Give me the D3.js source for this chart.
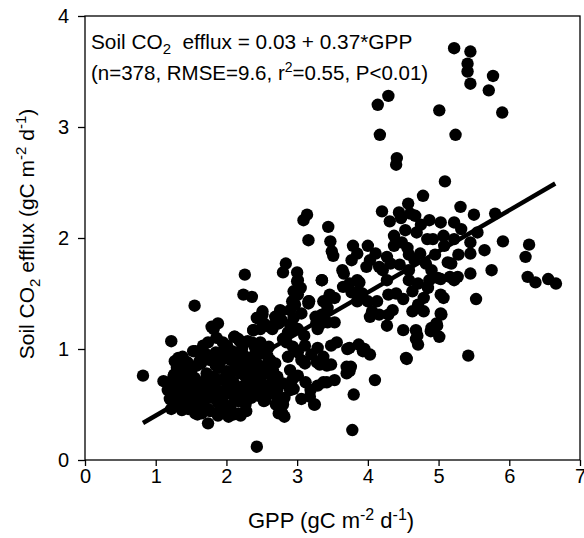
<!DOCTYPE html>
<html>
<head>
<meta charset="utf-8">
<script src="https://cdn.jsdelivr.net/npm/d3@7/dist/d3.min.js"></script>
<style>
  body { margin: 0; background: #fff; }
  text { font-family: "Liberation Sans", Arial, sans-serif; fill: #000; }
</style>
</head>
<body>
<div id="graf"></div>
<script>
// Datos: GPP (x) y flujo de CO2 del suelo (y), leidos a ojo del grafico
var xTicks = [0, 1, 2, 3, 4, 5, 6, 7]
var yTicks = [0, 1, 2, 3, 4]
var fitIntercept = 0.03
var fitSlope = 0.37
var fitRange = [0.82, 6.65]

// puntos aislados y extremos
var outliers = [
  [0.82,0.76],[1.11,0.71],[1.22,1.07],[1.55,1.39],[1.74,0.33],[2.43,0.12],[3.78,0.27],
  [3.80,0.59],[4.10,0.72],[3.74,0.80],[3.76,0.84],
  [5.22,3.71],[5.45,3.68],[5.41,3.57],[5.41,3.50],[5.45,3.39],[5.77,3.46],[5.71,3.33],
  [5.90,3.13],[5.01,3.15],[5.24,2.93],[4.14,3.20],[4.29,3.28],[4.17,2.93],[4.41,2.72],
  [4.40,2.66],[5.09,2.51],
  [5.91,1.97],[6.28,1.94],[6.23,1.83],[6.26,1.65],[6.37,1.60],[6.55,1.63],[6.66,1.59],
  [5.80,2.22],[5.75,1.71],[5.65,1.89],[5.53,1.45],[5.42,0.94],[5.50,2.21],[5.55,2.05],
  [5.31,2.28],[5.45,1.68],[5.45,1.86],[5.45,1.96],[4.78,2.38],[4.57,2.31],[4.20,2.24],
  [3.14,2.21],[3.09,2.16],[3.44,2.10],[3.16,1.98],[3.47,1.97],[3.49,1.88],[3.51,1.84],
  [2.26,1.67],[2.84,1.77],[2.80,1.69],[3.00,1.69],[3.00,1.61],[2.24,1.49],[2.36,1.47],
  [3.17,1.43],[3.35,1.62]
]

// nube superior (GPP 4 - 5.3)
var upperCluster = [
  [4.31,2.15],[4.44,2.23],[4.67,2.20],[4.87,2.16],[5.03,2.14],[5.22,2.14],[5.32,2.08],
  [4.37,2.02],[4.53,2.07],[4.69,2.05],[4.84,1.99],[5.07,2.02],[4.92,1.99],[5.08,1.93],
  [5.22,1.99],[5.18,1.77],[5.28,1.85],[5.22,1.62],[5.27,1.65],[5.03,1.63],[5.03,1.49],
  [5.07,1.46],[5.01,1.11],[5.03,1.32],[4.97,1.23],[4.90,1.19],[4.71,1.04],[4.70,1.12],
  [4.50,1.17],[4.54,0.92],[4.27,1.21],[4.29,1.31],[4.35,1.35],[4.16,1.31],[4.03,1.29],
  [4.06,1.34],[4.13,1.43],[4.29,1.49],[4.27,1.62],[4.21,1.71],[4.32,1.77],[4.45,1.76],
  [4.58,1.71],[4.58,1.62],[4.63,1.52],[4.71,1.59],[4.79,1.46],[4.71,1.40],[4.79,1.34],
  [4.63,1.34],[4.50,1.45],[4.87,1.62],[4.90,1.71],[4.82,1.77],[4.95,1.85],[4.74,1.86],
  [4.58,1.85],[4.48,1.96],[4.37,1.93],[4.27,1.83],[4.11,1.86],[4.00,1.93],[4.03,1.80],
  [4.16,1.74],[3.98,1.74],[3.85,1.86],[3.79,1.93],[3.77,1.80],[4.47,2.18],[4.60,2.22],
  [4.75,2.12],[4.56,1.91],[5.13,1.78],[5.16,1.65],[4.99,1.64],[4.68,1.17],[4.68,1.09],
  [4.98,1.21],[4.89,1.16],[5.04,1.31],[4.55,0.91],[4.40,1.50],[4.85,1.55],[4.66,1.80]
]

// zona media (GPP 2.7 - 4)
var middleCluster = [
  [3.64,1.71],[3.66,1.68],[3.74,1.59],[3.85,1.62],[3.87,1.52],[3.77,1.51],[3.53,1.46],
  [3.37,1.43],[3.43,1.37],[3.35,1.31],[3.27,1.23],[3.29,1.18],[3.43,1.24],[3.53,1.24],
  [3.35,1.62],[3.16,1.41],[4.00,1.43],[3.85,1.43],[3.06,1.32],[2.95,1.28],[3.01,1.18],
  [2.87,1.15],[3.11,1.03],[3.29,1.01],[3.48,1.03],[3.56,1.06],[3.71,1.00],[3.87,1.04],
  [4.03,0.95],[3.95,1.00],[3.74,1.01],[3.37,0.93],[3.32,0.86],[3.48,0.86],[3.53,0.72],
  [3.37,0.70],[3.29,0.67],[3.19,0.63],[3.24,0.50],[3.06,0.55],[2.95,0.64],[3.11,0.87],
  [3.06,0.90],[3.01,0.76],[2.90,0.81],[3.01,0.97],[2.87,0.93],[2.85,1.06],[2.80,1.09],
  [2.74,1.23],[2.77,1.34],[2.93,1.43],[3.01,1.49],[2.95,1.52],[3.01,1.62],[3.16,1.43],
  [3.65,1.56],[3.46,1.49],[3.42,1.43],[3.26,1.29],[3.92,1.50],[3.88,1.60],[3.70,0.84],
  [3.70,0.78],[3.42,0.70],[3.28,0.88],[3.42,0.85],[3.93,0.98],[3.18,0.57],[3.25,0.50],
  [2.98,1.18],[2.90,1.22],[2.83,1.10],[3.32,1.22],[3.20,0.95],[2.94,1.02],[2.97,1.40],
  [3.05,1.55],[2.90,1.35],[3.10,1.12],[2.93,0.72],[3.12,0.70]
]

// nube inferior densa (GPP 1 - 2.8)
var lowerCluster = [
  [2.61,1.20],[2.69,1.29],[2.51,1.31],[2.43,1.28],[2.38,1.17],[2.30,1.07],[2.48,1.06],
  [2.58,0.94],[2.69,0.87],[2.72,0.75],[2.80,0.69],[2.72,0.63],[2.58,0.61],[2.53,0.53],
  [2.80,0.50],[2.74,0.42],[2.48,0.75],[2.43,0.87],[2.32,0.90],[2.22,1.00],[2.11,1.11],
  [2.01,1.03],[1.95,1.06],[2.19,0.87],[2.11,0.81],[2.27,0.75],[2.22,0.66],[2.32,0.59],
  [2.17,0.53],[2.06,0.49],[1.95,0.56],[1.85,0.63],[2.01,0.69],[2.06,0.90],[1.90,0.83],
  [1.82,0.75],[1.77,0.90],[1.85,0.97],[1.67,0.97],[1.53,0.98],[1.64,0.87],[1.72,0.78],
  [1.64,0.69],[1.56,0.61],[1.43,0.53],[1.46,0.46],[1.59,0.41],[1.74,0.46],[1.88,0.52],
  [1.22,0.46],[1.27,0.56],[1.32,0.66],[1.25,0.75],[1.30,0.83],[1.27,0.89],[1.38,0.93],
  [1.43,0.81],[1.46,0.69],[1.38,0.59],[1.51,0.56],[1.17,0.63],[1.30,0.50],[1.67,0.52],
  [1.80,0.56],[1.77,0.44],[1.95,0.44],[2.03,0.39],[2.17,0.42],[2.27,0.50],[2.35,0.56],
  [2.38,0.66],[1.74,1.06],[1.82,1.18],[1.88,1.23],[1.93,0.90],[2.06,0.78],[1.67,1.03],
  [2.17,1.09],[2.27,0.93],[2.48,1.18],[2.53,1.23],[2.66,0.80],[2.64,0.70],[2.72,0.56],
  [2.82,0.39],[2.82,0.56],[2.90,0.63],[2.48,0.63],[2.43,0.81],[1.79,1.20],[1.86,1.10],
  [2.12,1.11],[2.19,1.07],[2.36,1.06],[2.51,1.34],[2.45,1.28],[2.76,1.35],[2.78,1.26],
  [2.68,1.22],[2.65,1.18],[2.38,1.17],[2.55,0.54],[2.77,0.49],[2.79,0.42],[2.10,0.41],
  [2.20,0.40],[1.32,0.92],[1.30,0.88],[1.56,0.98],[1.62,0.89],[1.37,0.45],[1.26,0.77],
  [1.24,0.67],[1.28,0.58],[1.47,0.55],[1.56,0.42],[1.65,0.42],[1.60,0.67],[1.41,0.81],
  [1.40,0.70],[1.50,0.65],[1.70,0.62],[1.90,0.72],[2.00,0.80],[2.10,0.70],[2.20,0.78],
  [2.30,0.70],[1.50,0.80],[1.60,0.55],[1.75,0.58],[1.85,0.85],[2.05,0.60],[2.15,0.95],
  [2.25,0.85],[1.45,0.88],[1.55,0.74],[1.35,0.75],[2.00,0.95],[2.40,0.95],[2.55,0.85],
  [2.60,1.02],[1.95,0.62],[2.12,0.56],[1.42,0.62],[1.34,0.55],[2.33,0.81],
  [1.36,0.85],[1.48,0.75],[1.52,0.48],[1.62,0.48],[1.70,0.72],[1.80,0.66],[1.92,0.48],
  [1.98,0.74],[2.04,0.64],[2.14,0.62],[2.24,0.58],[2.28,0.64],[2.34,0.76],[2.40,0.72],
  [2.45,0.58],[2.52,0.68],[2.58,0.78],[2.62,0.90],[2.50,0.96],[2.40,1.02],[2.08,0.98],
  [1.96,0.98],[1.72,0.95],[1.58,0.85],[1.44,0.68],[1.20,0.55],[1.33,0.48],[1.88,0.40],
  [2.28,0.44],[2.66,0.60],[2.70,0.50]
]

var points = outliers.concat(upperCluster, middleCluster, lowerCluster)

// I. Lienzo
var ancho_total = 584
var alto_total = 538
var margins = { top: 16, left: 85, right: 4, bottom: 78 }

var svg = d3.select('#graf').append('svg')
    .attr('width', ancho_total)
    .attr('height', alto_total)

var x = d3.scaleLinear().domain([0, 7]).range([margins.left, ancho_total - margins.right])
var y = d3.scaleLinear().domain([0, 4]).range([alto_total - margins.bottom, margins.top])

// EJE X
var xAxis = svg.append('g')
    .attr('transform', 'translate(0,' + y(0) + ')')
    .call(d3.axisBottom(x).tickValues(xTicks).tickFormat(d3.format('d'))
        .tickSize(6).tickSizeOuter(0).tickPadding(3))
xAxis.select('.domain').remove()
xAxis.selectAll('text').style('font-size', '20px')
xAxis.selectAll('line').attr('stroke-width', 1.3)

// EJE Y
var yAxis = svg.append('g')
    .attr('transform', 'translate(' + x(0) + ',0)')
    .call(d3.axisLeft(y).tickValues(yTicks).tickFormat(d3.format('d'))
        .tickSize(7).tickSizeOuter(0).tickPadding(9))
yAxis.select('.domain').remove()
yAxis.selectAll('text').style('font-size', '20px')
yAxis.selectAll('line').attr('stroke-width', 1.3)

// marco
svg.append('rect')
    .attr('x', x(0)).attr('y', y(4))
    .attr('width', x(7) - x(0)).attr('height', y(0) - y(4))
    .attr('fill', 'none').attr('stroke', '#000').attr('stroke-width', 1.3)

// PUNTOS
svg.append('g').selectAll('circle')
    .data(points)
    .enter().append('circle')
    .attr('cx', d => x(d[0]))
    .attr('cy', d => y(d[1]))
    .attr('r', 6.2)
    .attr('fill', '#000')

// recta de regresion
svg.append('line')
    .attr('x1', x(fitRange[0])).attr('y1', y(fitIntercept + fitSlope * fitRange[0]))
    .attr('x2', x(fitRange[1])).attr('y2', y(fitIntercept + fitSlope * fitRange[1]))
    .attr('stroke', '#000').attr('stroke-width', 4.5)

// ecuacion
var eq = svg.append('text').attr('x', 91).attr('y', 49).style('font-size', '20.8px')
    .attr('xml:space', 'preserve')
eq.append('tspan').text('Soil CO')
eq.append('tspan').attr('dy', 5).style('font-size', '15px').text('2')
eq.append('tspan').attr('dy', -5).text('  efflux = 0.03 + 0.37*GPP')

var stats = svg.append('text').attr('x', 91).attr('y', 80).style('font-size', '20.5px')
stats.append('tspan').text('(n=378, RMSE=9.6, r')
stats.append('tspan').attr('dy', -8).style('font-size', '14px').text('2')
stats.append('tspan').attr('dy', 8).text('=0.55, P<0.01)')

// ETIQUETAS DE EJES
var xl = svg.append('text')
    .attr('x', 331).attr('y', 528)
    .attr('text-anchor', 'middle')
    .style('font-size', '22px')
xl.append('tspan').text('GPP (gC m')
xl.append('tspan').attr('dy', -8).style('font-size', '16px').text('-2')
xl.append('tspan').attr('dy', 8).text(' d')
xl.append('tspan').attr('dy', -8).style('font-size', '16px').text('-1')
xl.append('tspan').attr('dy', 8).text(')')

var yl = svg.append('text')
    .attr('transform', 'translate(34,' + 234 + ') rotate(-90)')
    .attr('text-anchor', 'middle')
    .style('font-size', '21px')
yl.append('tspan').text('Soil CO')
yl.append('tspan').attr('dy', 6).style('font-size', '15px').text('2')
yl.append('tspan').attr('dy', -6).text(' efflux (gC m')
yl.append('tspan').attr('dy', -8).style('font-size', '15px').text('-2')
yl.append('tspan').attr('dy', 8).text(' d')
yl.append('tspan').attr('dy', -8).style('font-size', '15px').text('-1')
yl.append('tspan').attr('dy', 8).text(')')
</script>
</body>
</html>
